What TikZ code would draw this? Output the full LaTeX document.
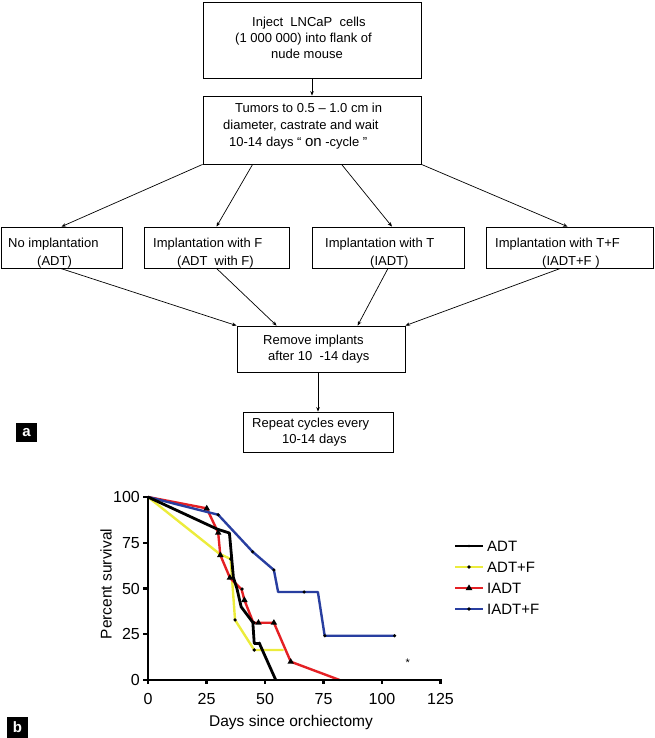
\documentclass[tikz,border=0pt]{standalone}
\usepackage{fontspec}
\setmainfont{Liberation Sans}
\usetikzlibrary{arrows.meta,calc}
\definecolor{cyel}{RGB}{236,236,60}
\definecolor{cred}{RGB}{228,32,36}
\definecolor{cblue}{RGB}{40,62,160}
\newcommand\mytri[1]{\fill #1 ++(0pt,3.6pt) -- ++(-3.3pt,-5.6pt) -- ++(6.6pt,0pt) -- cycle;}
\newcommand\mydot[1]{\fill #1 circle (1.8pt);}
\begin{document}
\begin{tikzpicture}[x=1pt,y=-1pt,
  box/.style={draw, line width=0.8pt, inner sep=0pt},
  txt/.style={font=\fontsize{13pt}{15pt}\selectfont, inner sep=0pt, anchor=base west},
  arr/.style={-{Stealth[length=4.5pt,width=3.6pt]}, line width=0.7pt},
  ticklab/.style={font=\fontsize{16pt}{16pt}\selectfont, inner sep=0pt},
  axlab/.style={font=\fontsize{15.5pt}{16pt}\selectfont, inner sep=0pt},
  legtxt/.style={font=\fontsize{15pt}{16pt}\selectfont, inner sep=0pt, anchor=west},
  curve/.style={line width=2.4pt, line join=round},
  panel/.style={fill=black, text=white, inner sep=0pt, font=\bfseries\fontsize{15pt}{15pt}\selectfont}]
\useasboundingbox (0,0) rectangle (654,738);
% ---------- flowchart boxes ----------
\node[box, minimum width=218pt, minimum height=76pt] (inj) at (312,40) {};
\node[box, minimum width=218pt, minimum height=68pt] (tum) at (312,130) {};
\node[box, minimum width=121pt, minimum height=41pt] (noimp) at (61.5,247.5) {};
\node[box, minimum width=145pt, minimum height=41pt] (impF) at (216.5,247.5) {};
\node[box, minimum width=152pt, minimum height=41pt] (impT) at (388,247.5) {};
\node[box, minimum width=167pt, minimum height=41pt] (impTF) at (569.5,247.5) {};
\node[box, minimum width=168pt, minimum height=46pt] (rem) at (321,349) {};
\node[box, minimum width=150pt, minimum height=40pt] (rep) at (318,432) {};
% ---------- texts ----------
\node[txt] (t1a) at (252,27) {Inject~~LNCaP~~cells};
\node[txt] (t1b) at (235,43) {(1 000 000) into flank of};
\node[txt] (t1c) at (271,59) {nude mouse};
\node[txt] (t2a) at (235,113) {Tumors to 0.5 – 1.0 cm in};
\node[txt] (t2b) at (223,130) {diameter, castrate and wait};
\node[txt] (t2c) at (229,147) {10-14 days “ {\fontsize{15pt}{15pt}\selectfont on} -cycle ”};
\node[txt] (tAa) at (8,247) {No implantation};
\node[txt] (tAb) at (37,265) {(ADT)};
\node[txt] (tBa) at (153,247) {Implantation with F};
\node[txt] (tBb) at (177,265) {(ADT~ with F)};
\node[txt] (tCa) at (325,247) {Implantation with T};
\node[txt] (tCb) at (370,265) {(IADT)};
\node[txt] (tDa) at (495,247) {Implantation with T+F};
\node[txt] (tDb) at (542,265) {(IADT+F )};
\node[txt] (tRa) at (263,344) {Remove implants};
\node[txt] (tRb) at (268,360) {after 10~ -14 days};
\node[txt] (tPa) at (252,427) {Repeat cycles every};
\node[txt] (tPb) at (282,443) {10-14 days};
% ---------- connectors ----------
\draw[arr] (inj.south) -- (tum.north);
\draw[arr] (tum.south west) -- (noimp.north);
\draw[arr] ($(tum.south west)+(50,0)$) -- (impF.north);
\draw[arr] ($(tum.south west)+(139,0)$) -- ($(impT.north)+(4,0)$);
\draw[arr] (tum.south east) -- ($(impTF.north)+(-2,0)$);
\draw[arr] ($(noimp.south)+(-1,0)$) -- (rem.north west);
\draw[arr] (impF.south) -- ($(rem.north west)+(40,0)$);
\draw[arr] (impT.south) -- ($(rem.north west)+(121,0)$);
\draw[arr] ($(impTF.south)+(-9,0)$) -- (rem.north east);
\draw[arr] (rem.south -| rep.north) -- (rep.north);
% ---------- panel labels ----------
\node[panel, minimum width=21pt, minimum height=19pt] (pa) at (26.5,432.5) {a};
\node[panel, minimum width=21pt, minimum height=21pt] (pb) at (17.5,727.5) {b};
% ---------- chart ----------
\begin{scope}[shift={(148,680)}]
\begin{scope}[x=2.34pt,y=1.83pt]
% yellow ADT+F
\draw[curve, cyel] (0,100) -- (30.5,69) -- (35.3,66.1) -- (37.2,32.8) -- (45.4,16.4) -- (58,16.4);
% red IADT
\draw[curve, cred] (0,100) -- (25.1,93.8) -- (30,80.5) -- (30.9,68.3) -- (35,55.9) -- (40,49.5) -- (41.2,43.7) -- (45,31.3) -- (53.8,31.3) -- (61,10) -- (81.9,0);
% blue IADT+F
\draw[curve, cblue] (0,100) -- (30,90.3) -- (44.7,70.1) -- (53.8,60.1) -- (55.6,48.1) -- (72.6,48.1) -- (75.5,24.2) -- (105.4,24.2);
% black ADT
\draw[curve, black, line width=2.8pt] (0,100) -- (29.5,82.5) -- (34.8,80.3) -- (36.5,56) -- (38,50) -- (39.8,40) -- (44.8,31.5) -- (45.4,20) -- (47.6,20) -- (54.6,0);
% markers
\mydot{(35.3,66.1)} \mydot{(37.2,32.8)} \mydot{(45.4,16.4)}
\mytri{(25.1,93.8)} \mytri{(30,80.5)} \mytri{(30.9,68.3)} \mytri{(35,55.9)}
\mytri{(41.2,43.7)} \mytri{(47.2,31.3)} \mytri{(53.8,31.3)} \mytri{(61,10)}
\mydot{(30,90.3)} \mydot{(44.7,70.1)} \mydot{(53.8,60.1)} \mydot{(66.7,48.1)} \mydot{(75.6,24.2)} \mydot{(105.4,24.2)}
\mydot{(40.2,49.7)} \mydot{(45.3,31.3)} \mydot{(47.6,20)}
% axes
\draw[line width=2.6pt, line cap=rect] (0,100) -- (0,0) -- (125,0);
\foreach \v in {0,25,50,75,100} {
  \draw[line width=2.2pt] (0,\v) -- ++(-5pt,0pt);
  \node[ticklab, anchor=east] (yt\v) at ($(0,\v)+(-8pt,0pt)$) {\v};
}
\foreach \u in {0,25,50,75,100,125} {
  \draw[line width=2.2pt] (\u,0) -- ++(0pt,-4pt);
  \node[ticklab] (xt\u) at ($(\u,0)+(0pt,-19pt)$) {\u};
}
\node[font=\fontsize{11pt}{11pt}\selectfont, inner sep=0pt] (ast) at (111,9.3) {*};
\end{scope}
\end{scope}
\node[axlab, rotate=90] (ylab) at (106,584) {Percent survival};
\node[axlab] (xlab) at (291,722) {Days since orchiectomy};
% ---------- legend ----------
\draw[black, line width=2.6pt] (455,546) -- (483,546);
\fill (469,546) circle (1.3pt);
\draw[cyel, line width=2.2pt] (455,567) -- (483,567);
\mydot{(469,567)}
\draw[cred, line width=2.2pt] (455,588) -- (483,588);
\mytri{(469,588)}
\draw[cblue, line width=2.2pt] (455,609) -- (483,609);
\mydot{(469,609)}
\node[legtxt] (l1) at (487,546) {ADT};
\node[legtxt] (l2) at (487,567) {ADT+F};
\node[legtxt] (l3) at (487,588) {IADT};
\node[legtxt] (l4) at (487,609) {IADT+F};
\end{tikzpicture}
\end{document}
